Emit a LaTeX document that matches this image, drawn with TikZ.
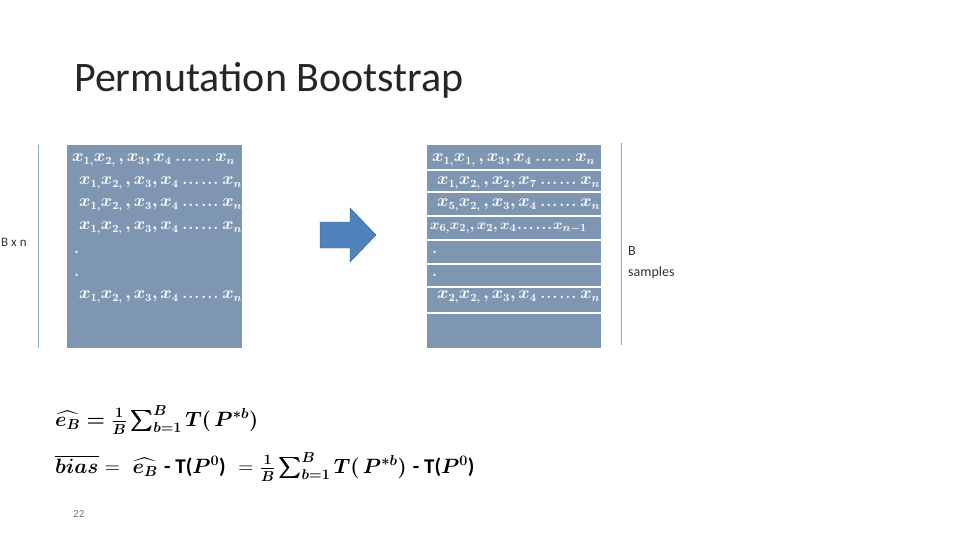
\documentclass[tikz,border=0pt]{standalone}
\usepackage{amsmath,bm}
\usepackage{fontspec}
\setsansfont{Carlito}
\definecolor{boxc}{HTML}{7F96B2}
\definecolor{arrc}{HTML}{4F81BD}
\definecolor{linec}{HTML}{8FAAD0}
\tikzset{x=1pt,y=-1pt,
 row/.style={anchor=west,text=white,font=\fontsize{16}{16}\selectfont,inner sep=0},
 lbl/.style={anchor=west,font=\sffamily\fontsize{14}{16}\selectfont,text=black!80,inner sep=0}}
\newcommand{\dd}{\mathbin{\text{\bfseries .\kern1pt.\kern1pt.\kern2pt.\kern1pt.\kern1pt.}}}
\newcommand{\xr}[1]{$\bm{#1}$}
\begin{document}
\begin{tikzpicture}
\useasboundingbox (0,0) rectangle (960,540);
\node[anchor=west,font=\sffamily\fontsize{42}{44}\selectfont,text=black!85,inner sep=0] (title) at (74,80) {Permutation Bootstrap};
% left
\fill[boxc] (67,145) rectangle (242,348);
\draw[linec] (38,145) -- (38,348);
\node[lbl,font=\sffamily\fontsize{13}{15}\selectfont] (bxn) at (1,242) {B x n};
\node[row] (l1) at (72,160) {\xr{x_{1,}x_{2,}\,,x_3,x_4\dd x_n}};
\node[row] (l2) at (79,183) {\xr{x_{1,}x_{2,}\,,x_3,x_4\dd x_n}};
\node[row] (l3) at (79,205) {\xr{x_{1,}x_{2,}\,,x_3,x_4\dd x_n}};
\node[row] (l4) at (79,228) {\xr{x_{1,}x_{2,}\,,x_3,x_4\dd x_n}};
\node[row] (l5) at (74,252) {\textbf{.}};
\node[row] (l6) at (74,275) {\textbf{.}};
\node[row] (l7) at (79,297) {\xr{x_{1,}x_{2,}\,,x_3,x_4\dd x_n}};
% arrow
\filldraw[fill=arrc,draw=arrc!70!black] (320,222) -- (350,222) -- (350,208) -- (376,235) -- (350,262) -- (350,248) -- (320,248) -- cycle;
% right
\fill[boxc] (427,145) rectangle (601,348);
\foreach \yy in {170,192,216,240,264,287,313}{\draw[white,line width=1.5] (427,\yy) -- (601,\yy);}
\draw[linec] (621,143) -- (621,345);
\node[lbl] (bs) at (628,251) {B};
\node[lbl] (bs2) at (628,273) {samples};
\node[row] (r1) at (432,160) {\xr{x_{1,}x_{1,}\,,x_3,x_4\dd x_n}};
\node[row] (r2) at (437,183) {\xr{x_{1,}x_{2,}\,,x_2,x_7\dd x_n}};
\node[row] (r3) at (437,205) {\xr{x_{5,}x_{2,}\,,x_3,x_4\dd x_n}};
\node[row,font=\fontsize{15.5}{16}\selectfont] (r4) at (430,228) {\xr{x_{6,}x_{2,},x_2,x_4\!\dd\! x_{n-1}}};
\node[row] (r5) at (432,252) {\textbf{.}};
\node[row] (r6) at (432,275) {\textbf{.}};
\node[row] (r7) at (437,297) {\xr{x_{2,}x_{2,}\,,x_3,x_4\dd x_n}};
% formulas
\node[anchor=west,inner sep=0,font=\fontsize{21}{23}\selectfont] (f1) at (55,420) {$\bm{\widehat{e_B}}$ \textbf{=}\ $\bm{\frac{1}{B}\sum_{b=1}^{B} T(\,P^{*b})}$};
\node[anchor=west,inner sep=0,font=\fontsize{21}{23}\selectfont] (f2) at (55,467) {$\overline{\bm{bias}}$ =\ \ $\bm{\widehat{e_B}}$ \textsf{\textbf{- T(}}$\bm{P^0}$\textsf{\textbf{)}} \ = $\bm{\frac{1}{B}\sum_{b=1}^{B} T(\,P^{*b})}$ \textsf{\textbf{- T(}}$\bm{P^0}$\textsf{\textbf{)}}};
\node[anchor=west,inner sep=0,font=\sffamily\fontsize{11}{12}\selectfont,text=black!55] (pg) at (73,514) {22};
\end{tikzpicture}
\end{document}
